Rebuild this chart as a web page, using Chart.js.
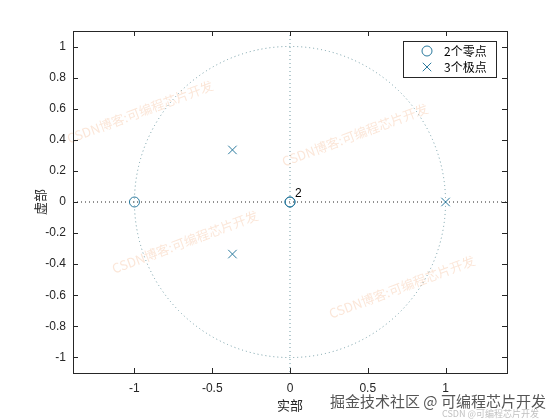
<!DOCTYPE html>
<html>
<head>
<meta charset="utf-8">
<script src="https://cdn.jsdelivr.net/npm/chart.js@4/dist/chart.umd.min.js"></script>
<style>
  html, body { margin: 0; padding: 0; background: #fff; }
  #wrap { width: 560px; height: 420px; }
</style>
</head>
<body>
<div id="wrap"><canvas id="zp" width="560" height="420"></canvas></div>
<script>
// zeros / poles
const zeroRe = [-1, 0, 0];
const zeroIm = [0, 0, 0];
const poleRe = [-0.37, -0.37, 1];
const poleIm = [0.335, -0.335, 0];
const seriesLabels = ['2个零点', '3个极点'];
const xTicks = [-1, -0.5, 0, 0.5, 1];
const yTicks = [-1, -0.8, -0.6, -0.4, -0.2, 0, 0.2, 0.4, 0.6, 0.8, 1];
const multLabel = { re: 0, im: 0, text: '2' };

const mk = '#2b7a9e';
const fontFam = '"Liberation Sans", Arial, sans-serif';
const cjk = '"Noto Sans CJK SC", sans-serif';

const pts = (re, im) => re.map((v, i) => ({ x: v, y: im[i] }));

const zplanePlugin = {
  id: 'zplane',
  beforeDatasetsDraw(chart) {
    const { ctx, chartArea: a, scales: { x, y } } = chart;
    ctx.save();
    ctx.beginPath();
    ctx.rect(a.left, a.top, a.right - a.left, a.bottom - a.top);
    ctx.clip();
    // unit circle
    const cx = x.getPixelForValue(0), cy = y.getPixelForValue(0);
    const r = x.getPixelForValue(1) - cx;
    ctx.lineWidth = 1;
    ctx.setLineDash([1, 3]);
    ctx.strokeStyle = '#6f9aa3';
    ctx.beginPath();
    ctx.arc(cx, cy, r, 0, Math.PI * 2);
    ctx.stroke();
    // vertical axis line
    ctx.beginPath();
    ctx.moveTo(cx, a.top); ctx.lineTo(cx, a.bottom);
    ctx.stroke();
    // horizontal axis line
    ctx.strokeStyle = '#222';
    ctx.beginPath();
    ctx.moveTo(a.left, cy); ctx.lineTo(a.right, cy);
    ctx.stroke();
    ctx.restore();

    // watermarks
    ctx.save();
    ctx.font = '13px ' + cjk;
    ctx.fillStyle = 'rgba(240,165,115,0.28)';
    ctx.textAlign = 'center';
    ctx.textBaseline = 'middle';
    [[140, 112], [355, 135], [185, 242], [402, 287]].forEach(([px, py]) => {
      ctx.save();
      ctx.translate(px, py);
      ctx.rotate(-0.36);
      ctx.fillText('CSDN博客:可编程芯片开发', 0, 0);
      ctx.restore();
    });
    ctx.restore();
  },
  afterDatasetsDraw(chart) {
    const { ctx, chartArea: a, scales: { x, y } } = chart;
    ctx.save();
    // box
    ctx.strokeStyle = '#262626';
    ctx.lineWidth = 1;
    ctx.strokeRect(Math.round(a.left) + 0.5, Math.round(a.top) + 0.5,
      Math.round(a.right - a.left), Math.round(a.bottom - a.top));
    // inward ticks on all four sides
    const tl = 5;
    ctx.beginPath();
    xTicks.forEach(v => {
      const px = Math.round(x.getPixelForValue(v)) + 0.5;
      ctx.moveTo(px, a.bottom); ctx.lineTo(px, a.bottom - tl);
      ctx.moveTo(px, a.top); ctx.lineTo(px, a.top + tl);
    });
    yTicks.forEach(v => {
      const py = Math.round(y.getPixelForValue(v)) + 0.5;
      ctx.moveTo(a.left, py); ctx.lineTo(a.left + tl, py);
      ctx.moveTo(a.right, py); ctx.lineTo(a.right - tl, py);
    });
    ctx.stroke();

    // multiplicity label
    ctx.fillStyle = '#000';
    ctx.font = '12px ' + fontFam;
    ctx.textBaseline = 'middle';
    ctx.fillText(multLabel.text, x.getPixelForValue(multLabel.re) + 5, y.getPixelForValue(multLabel.im) - 8);

    // axis titles
    ctx.fillStyle = '#262626';
    ctx.font = '13px ' + cjk;
    ctx.textAlign = 'center';
    ctx.fillText('实部', (a.left + a.right) / 2, 405);
    ctx.save();
    ctx.translate(40, (a.top + a.bottom) / 2);
    ctx.rotate(-Math.PI / 2);
    ctx.fillText('虚部', 0, 0);
    ctx.restore();

    // legend
    const lx = 403, ly = 41, lw = 93, lh = 36;
    ctx.fillStyle = '#fff';
    ctx.fillRect(lx, ly, lw, lh);
    ctx.strokeStyle = '#262626';
    ctx.strokeRect(lx + 0.5, ly + 0.5, lw, lh);
    chart.data.datasets.forEach((ds, i) => {
      const ry = ly + 10 + i * 16;
      ctx.strokeStyle = ds.borderColor;
      ctx.lineWidth = 1;
      Chart.helpers.drawPoint(ctx, { pointStyle: ds.pointStyle, radius: ds.pointRadius, borderWidth: 1 }, 427, ry);
      ctx.fillStyle = '#000';
      ctx.font = '12px ' + cjk;
      ctx.textAlign = 'left';
      ctx.fillText(ds.label, 444, ry);
    });

    // site marks bottom right
    ctx.textAlign = 'left';
    ctx.fillStyle = '#555';
    ctx.font = '15px ' + cjk;
    ctx.fillText('掘金技术社区 @ 可编程芯片开发', 330, 401);
    ctx.fillStyle = 'rgba(150,150,150,0.6)';
    ctx.font = '9px ' + cjk;
    ctx.fillText('CSDN @可编程芯片开发', 442, 414);
    ctx.restore();
  }
};

new Chart(document.getElementById('zp'), {
  type: 'scatter',
  data: {
    datasets: [{
      label: seriesLabels[0],
      data: pts(zeroRe, zeroIm),
      pointStyle: 'circle',
      pointRadius: 5,
      pointBorderWidth: 1,
      borderColor: mk,
      backgroundColor: 'rgba(0,0,0,0)'
    }, {
      label: seriesLabels[1],
      data: pts(poleRe, poleIm),
      pointStyle: 'crossRot',
      pointRadius: 6,
      pointBorderWidth: 1,
      borderColor: mk,
      backgroundColor: mk
    }]
  },
  options: {
    responsive: false,
    animation: false,
    layout: { padding: { left: 0, top: 31, right: 53, bottom: 0 } },
    plugins: { legend: { display: false }, tooltip: { enabled: false } },
    scales: {
      x: {
        type: 'linear', min: -1.395, max: 1.395,
        afterBuildTicks: s => { s.ticks = xTicks.map(v => ({ value: v })); },
        afterFit: s => { s.height = 47; },
        grid: { display: false, drawTicks: false },
        border: { display: false },
        ticks: { padding: 8, color: '#262626', font: { family: fontFam, size: 12 }, maxRotation: 0,
          callback: v => String(v) }
      },
      y: {
        type: 'linear', min: -1.1, max: 1.1,
        afterBuildTicks: s => { s.ticks = yTicks.map(v => ({ value: v })); },
        afterFit: s => { s.width = 73; },
        grid: { display: false, drawTicks: false },
        border: { display: false },
        ticks: { padding: 7, color: '#262626', font: { family: fontFam, size: 12 },
          callback: v => String(Math.round(v * 10) / 10) }
      }
    }
  },
  plugins: [zplanePlugin]
});
</script>
</body>
</html>
